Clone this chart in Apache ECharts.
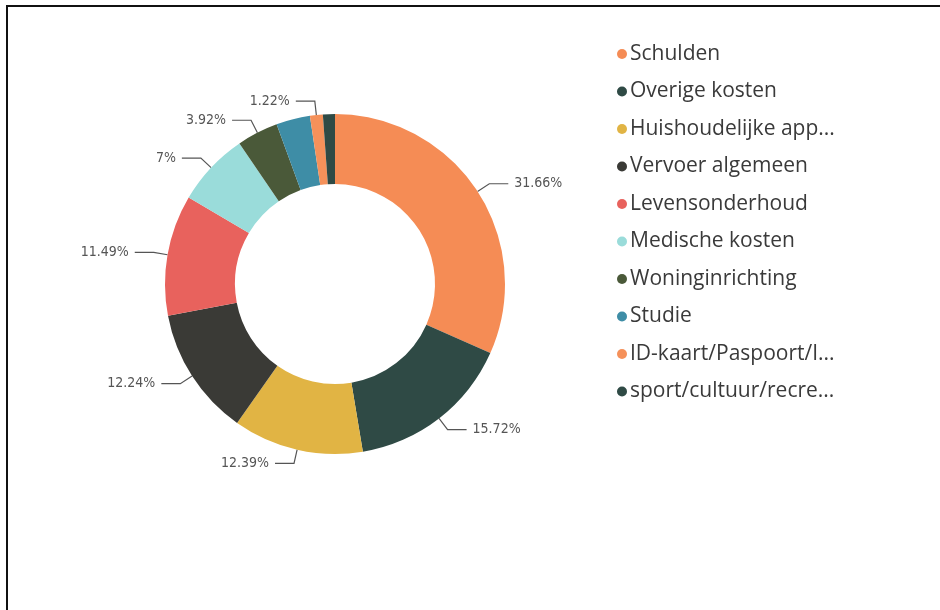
<!DOCTYPE html>
<html>
<head>
<meta charset="utf-8">
<script src="https://cdn.jsdelivr.net/npm/echarts@6/dist/echarts.min.js"></script>
<style>
  html, body { margin: 0; padding: 0; background: #fff; }
  #frame { position: absolute; left: 6px; top: 5px; width: 934px; height: 605px;
           border-top: 2px solid #111; border-left: 2px solid #111; }
  #main { position: absolute; left: 0; top: 0; width: 940px; height: 610px; }
</style>
</head>
<body>
<div id="frame"></div>
<div id="main"></div>
<script>
var categories = ['Schulden', 'Overige kosten', 'Huishoudelijke app...', 'Vervoer algemeen',
  'Levensonderhoud', 'Medische kosten', 'Woninginrichting', 'Studie',
  'ID-kaart/Paspoort/I...', 'sport/cultuur/recre...'];
var percentages = [31.66, 15.72, 12.39, 12.24, 11.49, 7, 3.92, 3.22, 1.22, 1.14];
// labels Power BI left out (too small)
var hiddenLabels = ['Studie', 'sport/cultuur/recre...'];
var colors = ['#F58C55', '#2F4A45', '#E1B444', '#3A3A36', '#E8625D', '#9ADCDA',
  '#4A5939', '#3E8DA6', '#F5915A', '#2F4A45'];

var myChart = echarts.init(document.getElementById('main'));

var data = categories.map(function (name, i) {
  var item = { name: name, value: percentages[i], itemStyle: { color: colors[i] } };
  if (hiddenLabels.indexOf(name) >= 0) {
    item.label = { show: false };
    item.labelLine = { show: false };
  }
  return item;
});

var option = {
  animation: false,
  legend: {
    orient: 'vertical',
    left: 612,
    top: 37,
    icon: 'circle',
    itemWidth: 10,
    itemHeight: 10,
    itemGap: 13.5,
    textStyle: {
      fontFamily: 'Open Sans',
      fontSize: 21,
      lineHeight: 24,
      color: '#3a3a3a',
      padding: [0, 0, 0, -2]
    },
    data: categories
  },
  series: [{
    type: 'pie',
    center: [335, 284],
    radius: [100, 170],
    startAngle: 90,
    clockwise: true,
    avoidLabelOverlap: true,
    data: data,
    label: {
      show: true,
      formatter: function (p) { return p.value + '%'; },
      fontFamily: 'DejaVu Sans Condensed',
      fontSize: 14,
      color: '#555',
      distanceToLabelLine: 6
    },
    labelLine: {
      show: true,
      length: 14,
      length2: 19,
      lineStyle: { color: '#555', width: 1.2 }
    },
    emphasis: { disabled: true }
  }]
};

myChart.setOption(option);
</script>
</body>
</html>
